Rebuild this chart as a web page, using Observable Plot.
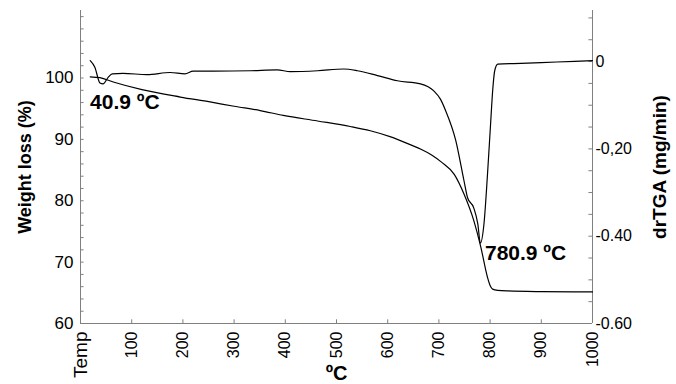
<!DOCTYPE html>
<html><head><meta charset="utf-8">
<script src="https://cdn.jsdelivr.net/npm/d3@7"></script>
<script src="https://cdn.jsdelivr.net/npm/@observablehq/plot@0.6"></script>
<style>body{margin:0;background:#fff;}</style>
</head><body><div id="chart"></div>
<script>
// Weight loss (TGA) curve
const tgaTemp   = [19, 38, 64, 120, 195, 253, 300, 351, 396, 463, 527, 566, 606, 645, 665, 685, 705, 730, 749, 768, 782, 795, 800, 805, 815, 835, 900, 1000];
const tgaWeight = [100.2, 100.05, 99.35, 98.1, 96.9, 96.1, 95.4, 94.7, 93.9, 93.0, 92.1, 91.4, 90.4, 89.1, 88.4, 87.5, 86.3, 84.3, 81.1, 76.8, 72.4, 67.5, 66.2, 65.6, 65.4, 65.3, 65.2, 65.15];
// Derivative (drTGA) curve
const dtgTemp = [19, 28, 38, 44, 54, 62, 83, 130, 175, 204, 220, 260, 332, 384, 410, 463, 514, 541, 580, 619, 664, 690, 703, 713, 733, 749, 756, 768, 776, 781, 788, 795, 801, 805, 809, 815, 860, 930, 1000];
const dtgRate = [0.002, -0.013, -0.049, -0.051, -0.036, -0.028, -0.027, -0.030, -0.025, -0.028, -0.022, -0.022, -0.021, -0.019, -0.023, -0.021, -0.017, -0.021, -0.032, -0.044, -0.051, -0.067, -0.086, -0.112, -0.181, -0.273, -0.312, -0.335, -0.372, -0.416, -0.372, -0.257, -0.142, -0.067, -0.021, -0.006, -0.004, -0.001, 0.002];

const xTicks = [0, 100, 200, 300, 400, 500, 600, 700, 800, 900, 1000];
const xTickLabels = ["Temp", "100", "200", "300", "400", "500", "600", "700", "800", "900", "1000"];
const wTicks = [60, 70, 80, 90, 100];
const wMinor = [60, 62, 64, 66, 68, 70, 72, 74, 76, 78, 80, 82, 84, 86, 88, 90, 92, 94, 96, 98, 100, 102, 104, 106, 108, 110];
const dTicks = [0, -0.2, -0.4, -0.6];
const dTickLabels = ["0", "-0,20", "-0.40", "-0.60"];
const dMinor = [0.1, 0.05, 0, -0.05, -0.1, -0.15, -0.2, -0.25, -0.3, -0.35, -0.4, -0.45, -0.5, -0.55, -0.6];
const annotations = ["40.9 ºC", "780.9 ºC"];

const wDomain = [60, 111];
const dDomain = [-0.6, 0.117];
const toW = d => wDomain[0] + (d - dDomain[0]) * (wDomain[1] - wDomain[0]) / (dDomain[1] - dDomain[0]);

const tga = tgaTemp.map((t, i) => ({t, w: tgaWeight[i]}));
const dtg = dtgTemp.map((t, i) => ({t, w: toW(dtgRate[i])}));

const font = "'Liberation Sans', Arial, sans-serif";
const axisColor = "#808080";

const chart = Plot.plot({
  width: 676, height: 384,
  marginLeft: 80, marginRight: 84, marginTop: 10, marginBottom: 61,
  style: {fontFamily: font, background: "#fff", overflow: "visible"},
  x: {domain: [0, 1000], axis: null},
  y: {domain: wDomain, axis: null},
  marks: [
    // axis lines
    Plot.ruleX([0, 1000], {x: d => d, y1: 60, y2: 111, stroke: axisColor, strokeWidth: 1}),
    Plot.ruleY([60], {y: d => d, x1: 0, x2: 1000, stroke: axisColor, strokeWidth: 1}),
    // left ticks (inward)
    Plot.ruleY(wMinor, {y: d => d, x1: 0, x2: 7, stroke: axisColor}),
    // right ticks (inward)
    Plot.ruleY(dMinor, {y: d => toW(d), x1: 993, x2: 1000, stroke: axisColor}),
    // bottom ticks (inward)
    Plot.ruleX(xTicks, {x: d => d, y1: 60, y2: 60.6, stroke: axisColor}),
    // tick labels
    Plot.text(wTicks, {x: 0, y: d => d, text: d => String(d), textAnchor: "end", dx: -7, fontSize: 17, fill: "#000"}),
    Plot.text(dTicks, {x: 1000, y: d => toW(d), text: (d, i) => dTickLabels[i], textAnchor: "start", dx: 3, fontSize: 16, fill: "#000"}),
    Plot.text(xTicks, {x: d => d, y: 60, text: (d, i) => xTickLabels[i], rotate: -90, textAnchor: "end", lineAnchor: "middle", dy: 8, fontSize: (d, i) => i === 0 ? 19 : 16, fill: "#000"}),
    // axis titles
    Plot.text(["Weight loss (%)"], {frameAnchor: "left", dx: -55, rotate: -90, textAnchor: "middle", lineAnchor: "middle", fontSize: 18, fontWeight: "bold", fill: "#000"}),
    Plot.text(["drTGA (mg/min)"], {frameAnchor: "right", dx: 67, rotate: -90, textAnchor: "middle", lineAnchor: "middle", fontSize: 19, fontWeight: "bold", fill: "#000"}),
    Plot.text(["ºC"], {frameAnchor: "bottom", dy: 50, textAnchor: "middle", lineAnchor: "middle", fontSize: 20, fontWeight: "bold", fill: "#000"}),
    // curves
    Plot.line(tga, {x: "t", y: "w", stroke: "#000", strokeWidth: 1.2, curve: "monotone-x"}),
    Plot.line(dtg, {x: "t", y: "w", stroke: "#000", strokeWidth: 1.2, curve: "monotone-x"}),
    // annotations
    Plot.text([annotations[0]], {x: 18.6, y: 96.0, text: d => d, textAnchor: "start", lineAnchor: "middle", fontSize: 21, fontWeight: "bold", fill: "#000"}),
    Plot.text([annotations[1]], {x: 790, y: 71.4, text: d => d, textAnchor: "start", lineAnchor: "middle", fontSize: 21, fontWeight: "bold", fill: "#000"})
  ]
});
document.getElementById("chart").appendChild(chart);
</script>
</body></html>
